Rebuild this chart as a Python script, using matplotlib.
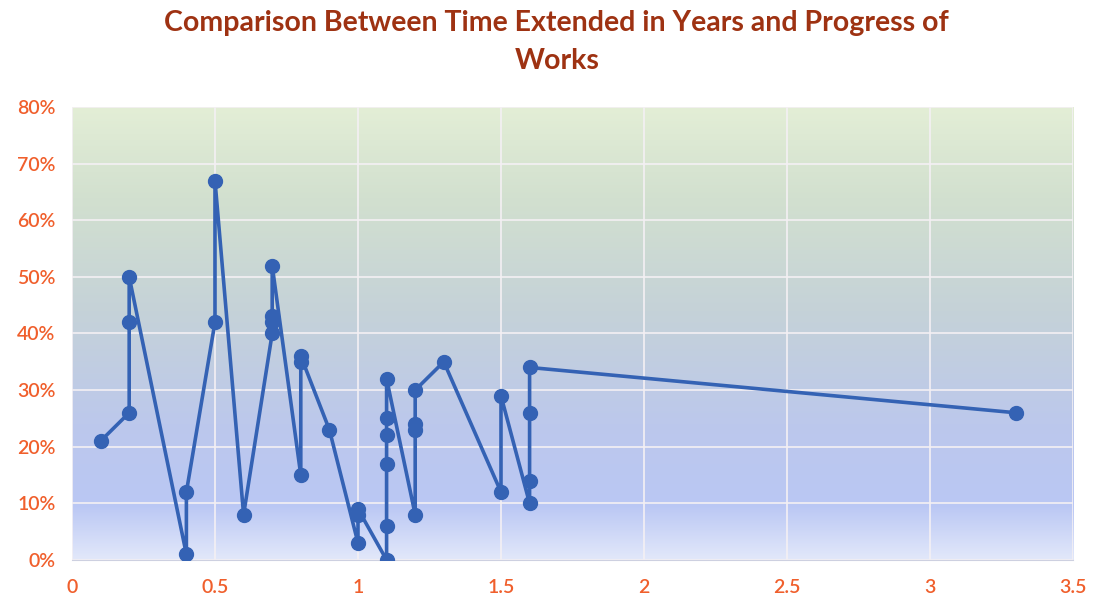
import matplotlib
matplotlib.use("Agg")
import matplotlib.pyplot as plt
import numpy as np
from matplotlib.colors import LinearSegmentedColormap
from matplotlib.ticker import FuncFormatter

# time extended (years) and progress of works (%), in plotting order
years = [0.1, 0.2, 0.2, 0.2, 0.4, 0.4, 0.5, 0.5, 0.6, 0.7, 0.7, 0.7, 0.7,
         0.8, 0.8, 0.8, 0.9, 1.0, 1.0, 1.0, 1.1, 1.1, 1.1, 1.1, 1.1, 1.1,
         1.2, 1.2, 1.2, 1.2, 1.3, 1.5, 1.5, 1.6, 1.6, 1.6, 1.6, 3.3]
progress = [21, 26, 42, 50, 1, 12, 42, 67, 8, 40, 42, 43, 52,
            15, 35, 36, 23, 3, 8, 9, 0, 6, 17, 22, 25, 32,
            8, 23, 24, 30, 35, 12, 29, 10, 14, 26, 34, 26]

x_ticks = [0, 0.5, 1, 1.5, 2, 2.5, 3, 3.5]
y_ticks = [0, 10, 20, 30, 40, 50, 60, 70, 80]

title = "Comparison Between Time Extended in Years and Progress of\nWorks"

tick_color = "#f05f2c"
line_color = "#3462b4"

fig = plt.figure(figsize=(10.94, 6.0), dpi=100)
ax = fig.add_axes([0.0658, 0.0667, 0.9150, 0.7550])

# vertical gradient fill behind the plot area
bg = LinearSegmentedColormap.from_list(
    "bg", [(0.0, "#e2e8fa"), (0.12, "#bac7f4"), (0.3, "#bcc8ec"),
           (0.55, "#c5d2d8"), (0.8, "#d2e0cf"), (1.0, "#e3eed6")])
grad = np.linspace(0, 1, 256).reshape(-1, 1)
ax.imshow(grad, cmap=bg, origin="lower", aspect="auto",
          extent=[0, 1, 0, 1], transform=ax.transAxes, zorder=0)

ax.plot(years, progress, color=line_color, linewidth=2.6,
        marker="o", markersize=10, markerfacecolor=line_color,
        markeredgecolor=line_color, zorder=3)

ax.set_xlim(0, 3.5)
ax.set_ylim(0, 80)
ax.set_xticks(x_ticks)
ax.set_yticks(y_ticks)
ax.xaxis.set_major_formatter(FuncFormatter(lambda v, p: f"{v:g}"))
ax.yaxis.set_major_formatter(FuncFormatter(lambda v, p: f"{v:.0f}%"))
ax.grid(True, color="#f4f0f4", linewidth=1.2)
for line in ax.get_xgridlines() + ax.get_ygridlines():
    line.set_zorder(1)

ax.tick_params(axis="both", length=0, labelsize=14, colors=tick_color)
ax.tick_params(axis="x", pad=14)
ax.tick_params(axis="y", pad=12)
for lab in ax.get_xticklabels() + ax.get_yticklabels():
    lab.set_fontfamily("Lato")
    lab.set_fontweight("semibold")

for side in ["top", "right", "left"]:
    ax.spines[side].set_visible(False)
ax.spines["bottom"].set_color("#cdd0e0")

fig.text(0.509, 0.983, title, ha="center", va="top", fontsize=20.5,
         fontweight="bold", color="#9e3212", family="Lato",
         linespacing=1.55)

fig.savefig("out.png", dpi=100)
